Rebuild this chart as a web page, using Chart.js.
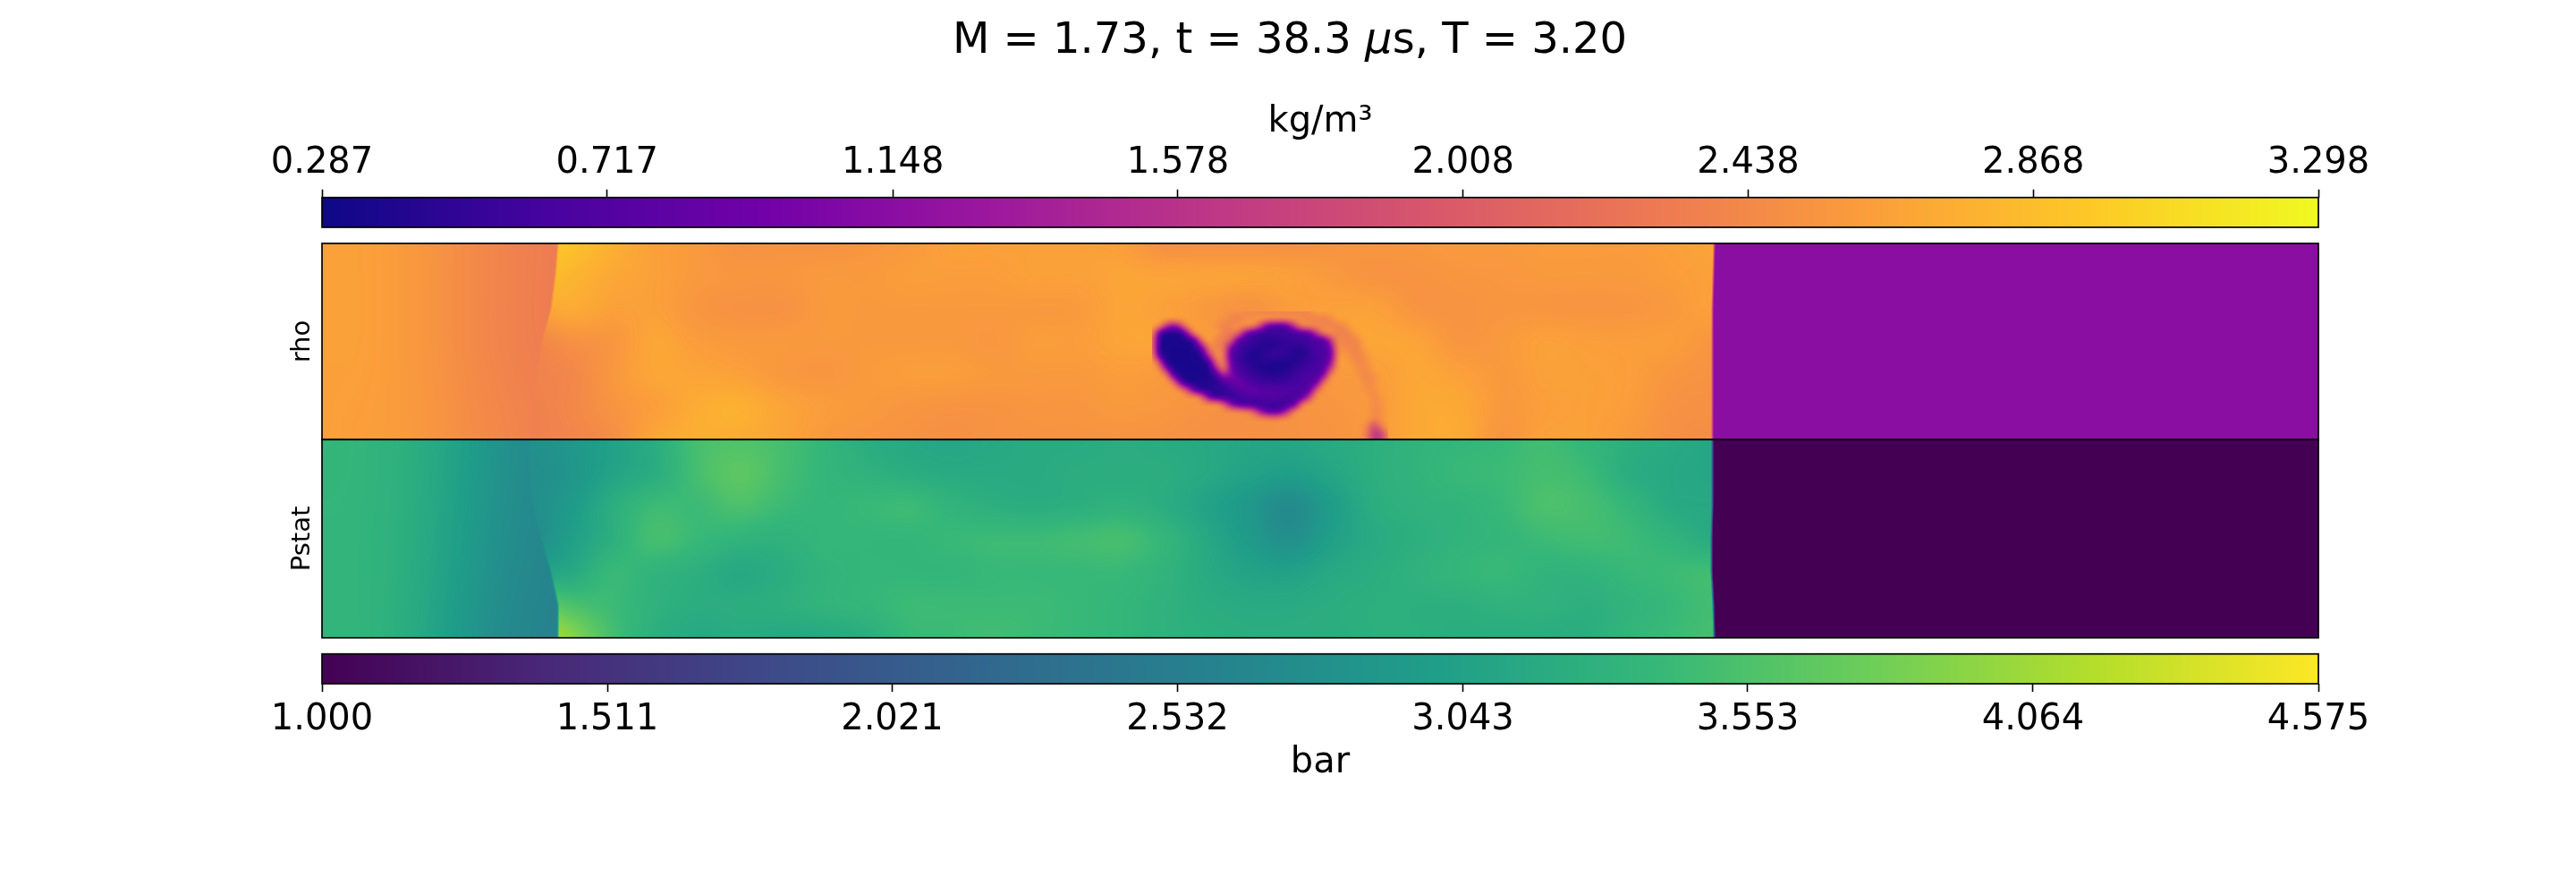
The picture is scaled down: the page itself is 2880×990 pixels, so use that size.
<!DOCTYPE html>
<html>
<head>
<meta charset="utf-8">
<title>M = 1.73</title>
<script src="https://cdn.jsdelivr.net/npm/chart.js@4"></script>
<style>
  body { margin: 0; background: #fff; }
  #wrap { position: relative; width: 2880px; height: 990px; }
  #figTitle { position: absolute; left: 0; width: 2884px; top: 14px; text-align: center;
    font: 48px "DejaVu Sans"; color: #000; line-height: 56px; }
  #figTitle i { font-family: "DejaVu Sans"; font-style: italic; }
  canvas { position: absolute; left: 0; top: 0; }
</style>
</head>
<body>
<div id="wrap">
  <canvas id="myChart" width="2880" height="990"></canvas>
  <div id="figTitle">M = 1.73, t = 38.3 <i>μ</i>s, T = 3.20</div>
</div>
<script>
// Ticks of the two colorbars
const rhoTicks = [0.287, 0.717, 1.148, 1.578, 2.008, 2.438, 2.868, 3.298];
const pstatTicks = [1.0, 1.511, 2.021, 2.532, 3.043, 3.553, 4.064, 4.575];
const panelNames = ["rho", "Pstat"];

// Colormaps
const plasmaStops = ["#0d0887", "#46039f", "#7201a8", "#9c179e", "#bd3786", "#d8576b", "#ed7953", "#fb9f3a", "#fdca26", "#f0f921"];
const viridisStops = ["#440154", "#482878", "#3e4989", "#31688e", "#26828e", "#1f9e89", "#35b779", "#6ece58", "#b5de2b", "#fde725"];

// Still gas ahead of the contact front
const rhoAmbient = 1.157;
const pstatAmbient = 1.0;

// Fronts, position along the channel for each of the 7 rows (top to bottom of the panel)
const rhoShock = [264, 261, 256, 246, 240, 233, 231];
const rhoContact = [1556.5, 1555.5, 1554.5, 1554.5, 1554.5, 1554.5, 1554.5];
const pstatShock = [231, 232, 236, 245, 256, 264, 264];
const pstatContact = [1554.5, 1554.5, 1554.5, 1553.5, 1553.5, 1555.5, 1556.5];

// Behind the shock
const leftX = [0, 40, 80, 120, 160, 200, 240, 280];
const rhoLeft = [
  [2.64, 2.64, 2.60, 2.54, 2.46, 2.39, 2.34, 2.31],
  [2.64, 2.64, 2.60, 2.54, 2.46, 2.39, 2.34, 2.31],
  [2.64, 2.62, 2.60, 2.55, 2.48, 2.42, 2.38, 2.35],
];
const pstatLeft = [
  [3.36, 3.34, 3.28, 3.17, 3.00, 2.82, 2.70, 2.62],
  [3.34, 3.33, 3.27, 3.14, 2.96, 2.78, 2.67, 2.60],
  [3.34, 3.33, 3.25, 3.10, 2.90, 2.72, 2.62, 2.57],
];

// Between shock and contact front
const mainX = [230, 277, 325, 372, 419, 467, 514, 561, 609, 656, 704, 751, 798, 846, 893, 940, 988, 1035, 1083, 1130, 1177, 1225, 1272, 1320, 1367, 1414, 1462, 1509, 1556];
const rhoMain = [
  [2.94, 2.90, 2.76, 2.64, 2.58, 2.52, 2.53, 2.52, 2.55, 2.58, 2.64, 2.64, 2.64, 2.64, 2.62, 2.50, 2.49, 2.49, 2.50, 2.53, 2.55, 2.56, 2.58, 2.58, 2.60, 2.60, 2.60, 2.63, 2.67],
  [2.91, 2.80, 2.70, 2.64, 2.58, 2.55, 2.55, 2.58, 2.58, 2.61, 2.61, 2.61, 2.64, 2.64, 2.67, 2.66, 2.66, 2.65, 2.63, 2.58, 2.53, 2.53, 2.55, 2.56, 2.58, 2.58, 2.58, 2.61, 2.64],
  [2.64, 2.72, 2.64, 2.64, 2.55, 2.52, 2.52, 2.58, 2.58, 2.58, 2.58, 2.58, 2.58, 2.59, 2.67, 2.64, 2.58, 2.52, 2.60, 2.64, 2.64, 2.54, 2.53, 2.55, 2.55, 2.54, 2.55, 2.58, 2.64],
  [2.40, 2.50, 2.55, 2.68, 2.61, 2.58, 2.58, 2.58, 2.58, 2.58, 2.58, 2.56, 2.61, 2.61, 2.67, 2.67, 2.61, 2.58, 2.58, 2.66, 2.68, 2.66, 2.55, 2.58, 2.64, 2.62, 2.61, 2.61, 2.55],
  [2.38, 2.42, 2.56, 2.68, 2.67, 2.64, 2.58, 2.55, 2.59, 2.61, 2.61, 2.58, 2.58, 2.58, 2.61, 2.59, 2.55, 2.55, 2.55, 2.58, 2.61, 2.69, 2.64, 2.58, 2.64, 2.64, 2.62, 2.55, 2.52],
  [2.36, 2.42, 2.53, 2.62, 2.73, 2.76, 2.67, 2.61, 2.58, 2.55, 2.53, 2.53, 2.55, 2.55, 2.58, 2.56, 2.52, 2.50, 2.52, 2.55, 2.59, 2.70, 2.70, 2.58, 2.62, 2.64, 2.61, 2.52, 2.50],
  [2.36, 2.40, 2.48, 2.68, 2.74, 2.73, 2.67, 2.58, 2.55, 2.52, 2.50, 2.52, 2.53, 2.53, 2.53, 2.52, 2.50, 2.50, 2.52, 2.53, 2.59, 2.70, 2.71, 2.55, 2.64, 2.64, 2.58, 2.50, 2.47],
];
const pstatMain = [
  [2.79, 2.89, 3.04, 3.22, 3.50, 3.57, 3.50, 3.36, 3.22, 3.15, 3.11, 3.15, 3.18, 3.18, 3.22, 3.18, 3.15, 3.11, 3.11, 3.18, 3.25, 3.32, 3.36, 3.40, 3.47, 3.36, 3.25, 3.18, 3.11],
  [2.75, 2.86, 3.07, 3.22, 3.50, 3.65, 3.50, 3.36, 3.29, 3.22, 3.18, 3.18, 3.18, 3.22, 3.22, 3.22, 3.15, 3.06, 3.00, 3.11, 3.25, 3.32, 3.40, 3.43, 3.50, 3.43, 3.22, 3.15, 3.11],
  [2.75, 2.93, 3.22, 3.43, 3.43, 3.54, 3.43, 3.36, 3.40, 3.43, 3.32, 3.25, 3.22, 3.25, 3.29, 3.22, 3.07, 2.90, 2.72, 2.98, 3.22, 3.29, 3.32, 3.40, 3.54, 3.50, 3.36, 3.18, 3.15],
  [2.72, 3.00, 3.25, 3.50, 3.40, 3.32, 3.29, 3.36, 3.36, 3.36, 3.40, 3.43, 3.43, 3.47, 3.50, 3.36, 3.15, 2.95, 2.78, 3.02, 3.18, 3.25, 3.32, 3.36, 3.43, 3.47, 3.43, 3.32, 3.18],
  [3.07, 3.15, 3.40, 3.32, 3.25, 3.15, 3.22, 3.32, 3.36, 3.36, 3.36, 3.40, 3.40, 3.40, 3.40, 3.32, 3.18, 3.07, 3.04, 3.15, 3.22, 3.29, 3.36, 3.40, 3.32, 3.32, 3.40, 3.43, 3.47],
  [3.80, 3.55, 3.43, 3.29, 3.22, 3.22, 3.25, 3.32, 3.36, 3.43, 3.43, 3.43, 3.43, 3.40, 3.36, 3.29, 3.22, 3.18, 3.18, 3.22, 3.25, 3.25, 3.25, 3.29, 3.29, 3.25, 3.32, 3.40, 3.47],
  [4.29, 3.95, 3.50, 3.25, 3.15, 3.18, 3.15, 3.15, 3.22, 3.40, 3.43, 3.47, 3.43, 3.40, 3.36, 3.29, 3.25, 3.22, 3.22, 3.22, 3.25, 3.25, 3.22, 3.22, 3.22, 3.22, 3.36, 3.43, 3.50],
];

// Vortex detail (rho), finer cells, _ = use the main field there
const _ = null;
const vortexX = [928, 936, 944, 952, 960, 968, 976, 984, 992, 1000, 1008, 1016, 1024, 1032, 1040, 1048, 1056, 1064, 1072, 1080, 1088, 1096, 1104, 1112, 1120, 1128, 1136, 1144, 1152, 1160, 1168, 1176, 1184, 1192];
const vortexY = [127.3, 135.3, 143.3, 151.3, 159.3, 167.3, 175.3, 183.3, 191.3, 199.3, 207.3, 215.3, 223.3, 231.3, 239.3, 247.3, 255.3, 263.3, 271.3];
const rhoVortex = [
  [_, _, _, _, _, _, _, _, _, _, _, _, _, 2.45, 2.40, 2.36, 2.36, 2.36, 2.36, 2.36, 2.36, 2.40, 2.45, _, _, _, _, _, _, _, _, _, _, _],
  [_, _, _, _, _, _, _, _, _, _, 2.50, 2.40, 2.35, 2.45, 2.50, 2.55, 2.50, 2.48, 2.48, 2.48, 2.48, 2.45, 2.36, 2.36, 2.36, 2.45, _, _, _, _, _, _, _, _],
  [_, 2.40, 1.60, 1.20, 1.70, 2.45, _, _, _, 2.50, 2.38, 2.42, 2.50, 2.50, 2.40, 1.80, 1.00, 0.75, 0.70, 0.95, 1.70, 2.35, 2.45, 2.45, 2.42, 2.38, 2.38, 2.48, _, _, _, _, _, _],
  [2.45, 0.90, 0.40, 0.38, 0.45, 1.30, 2.40, _, _, _, 2.36, 2.30, 2.10, 1.20, 0.70, 0.58, 0.55, 0.58, 0.60, 0.60, 0.62, 0.70, 0.90, 1.60, 2.30, 2.45, 2.38, 2.36, 2.50, _, _, _, _, _],
  [2.30, 0.60, 0.37, 0.37, 0.37, 0.45, 0.90, 2.20, _, 2.38, 2.30, 2.00, 0.95, 0.66, 0.58, 0.52, 0.48, 0.48, 0.50, 0.54, 0.58, 0.60, 0.64, 0.66, 0.75, 1.60, 2.45, 2.38, 2.38, 2.50, _, _, _, _],
  [2.30, 0.55, 0.36, 0.35, 0.35, 0.37, 0.48, 1.10, 2.30, 2.40, 2.20, 1.10, 0.66, 0.56, 0.48, 0.42, 0.42, 0.45, 0.50, 0.50, 0.46, 0.48, 0.58, 0.66, 0.70, 1.10, 2.45, 2.45, 2.40, 2.45, _, _, _, _],
  [2.40, 0.70, 0.36, 0.35, 0.35, 0.35, 0.38, 0.55, 1.70, 2.45, 2.20, 0.85, 0.60, 0.48, 0.40, 0.42, 0.50, 0.55, 0.52, 0.48, 0.42, 0.42, 0.52, 0.64, 0.68, 0.95, 2.40, 2.55, 2.42, 2.42, 2.55, _, _, _],
  [_, 1.70, 0.45, 0.35, 0.35, 0.35, 0.36, 0.40, 0.75, 2.10, 2.30, 0.95, 0.60, 0.50, 0.42, 0.42, 0.44, 0.42, 0.40, 0.40, 0.42, 0.48, 0.56, 0.62, 0.70, 1.20, 2.50, _, 2.50, 2.42, 2.50, _, _, _],
  [_, 2.40, 1.20, 0.40, 0.36, 0.35, 0.35, 0.36, 0.48, 1.30, 2.20, 1.10, 0.68, 0.58, 0.48, 0.42, 0.38, 0.37, 0.38, 0.42, 0.50, 0.56, 0.62, 0.66, 0.80, 1.70, _, _, _, 2.45, 2.45, _, _, _],
  [_, _, 2.30, 0.95, 0.44, 0.36, 0.36, 0.36, 0.40, 0.60, 1.20, 1.05, 0.78, 0.64, 0.56, 0.52, 0.48, 0.46, 0.48, 0.52, 0.58, 0.64, 0.68, 0.72, 1.20, 2.40, _, _, _, 2.50, 2.42, 2.50, _, _],
  [_, _, _, 2.20, 1.00, 0.48, 0.42, 0.42, 0.42, 0.46, 0.62, 0.80, 0.90, 0.80, 0.68, 0.60, 0.56, 0.55, 0.56, 0.60, 0.62, 0.66, 0.72, 1.00, 2.20, _, _, _, _, _, 2.45, 2.50, _, _],
  [_, _, _, _, 2.40, 1.70, 0.85, 0.55, 0.48, 0.48, 0.52, 0.60, 0.72, 0.80, 0.82, 0.78, 0.74, 0.74, 0.72, 0.70, 0.68, 0.72, 0.90, 2.00, _, _, _, _, _, _, 2.50, 2.48, _, _],
  [_, _, _, _, _, _, _, 2.00, 1.00, 0.66, 0.54, 0.54, 0.58, 0.64, 0.68, 0.72, 0.72, 0.72, 0.68, 0.66, 0.68, 0.85, 1.70, _, _, _, _, _, _, _, _, 2.45, 2.55, _],
  [_, _, _, _, _, _, _, _, _, _, 2.00, 1.20, 0.76, 0.62, 0.58, 0.58, 0.58, 0.58, 0.60, 0.66, 0.95, 2.20, _, _, _, _, _, _, _, _, _, 2.48, 2.50, _],
  [_, _, _, _, _, _, _, _, _, _, _, _, 2.45, 2.30, 2.10, 1.40, 0.90, 0.80, 0.95, 1.60, 2.40, _, _, _, _, _, _, _, _, _, _, 2.45, 2.50, _],
  [_, _, _, _, _, _, _, _, _, _, _, _, _, _, _, 2.45, 2.40, 2.30, 2.40, 2.50, _, _, _, _, _, _, _, _, _, _, _, 2.42, 2.48, _],
  [_, _, _, _, _, _, _, _, _, _, _, _, _, _, _, _, _, _, _, _, _, _, _, _, _, _, _, _, _, _, 2.40, 1.90, 2.30, _],
  [_, _, _, _, _, _, _, _, _, _, _, _, _, _, _, _, _, _, _, _, _, _, _, _, _, _, _, _, _, _, 2.30, 1.70, 1.75, 2.45],
  [_, _, _, _, _, _, _, _, _, _, _, _, _, _, _, _, _, _, _, _, _, _, _, _, _, _, _, _, _, _, 2.30, 1.65, 1.65, 2.45],
];

// Vertical layout of the figure, in the units of the y axis
const barTop = [0, 33.3];
const rhoPanel = [51.3, 270.5];
const pstatPanel = [270.5, 492];
const barBottom = [510, 543.3];

function clamp01(v) { return v < 0 ? 0 : v > 1 ? 1 : v; }

function hexToRgb(h) {
  return [parseInt(h.slice(1, 3), 16), parseInt(h.slice(3, 5), 16), parseInt(h.slice(5, 7), 16)];
}

function buildLut(stops) {
  const rgb = stops.map(hexToRgb);
  const lut = new Uint8ClampedArray(1024 * 3);
  for (let i = 0; i < 1024; i++) {
    const t = (i / 1023) * (rgb.length - 1);
    const k = Math.min(Math.floor(t), rgb.length - 2);
    for (let c = 0; c < 3; c++) lut[i * 3 + c] = rgb[k][c] + (rgb[k + 1][c] - rgb[k][c]) * (t - k);
  }
  return lut;
}

function cubic(a, b, c, d, t) {
  return b + 0.5 * t * (c - a + t * (2 * a - 5 * b + 4 * c - d + t * (3 * (b - c) + d - a)));
}

// same as cubic, but it never overshoots the two middle values
function cubicTight(a, b, c, d, t) {
  const r = cubic(a, b, c, d, t);
  const lo = Math.min(b, c), hi = Math.max(b, c);
  return r < lo ? lo : r > hi ? hi : r;
}

// smooth lookup in a table with even rows and columns (u, v from 0 to 1)
function sampleCubic(grid, u, v, fn) {
  const ny = grid.length, nx = grid[0].length;
  const fx = clamp01(u) * (nx - 1), fy = clamp01(v) * (ny - 1);
  const ix = Math.min(Math.floor(fx), nx - 2), iy = Math.min(Math.floor(fy), ny - 2);
  const rows = [];
  for (let j = -1; j <= 2; j++) {
    const r = grid[Math.max(0, Math.min(ny - 1, iy + j))];
    rows.push(fn(r[Math.max(0, ix - 1)], r[ix], r[ix + 1], r[Math.min(nx - 1, ix + 2)], fx - ix));
  }
  return fn(rows[0], rows[1], rows[2], rows[3], fy - iy);
}

function sampleLine(line, v) {
  const f = clamp01(v) * (line.length - 1);
  const i = Math.min(Math.floor(f), line.length - 2);
  return line[i] + (line[i + 1] - line[i]) * (f - i);
}

function fieldValue(x, v, f) {
  const shock = sampleLine(f.shock, v), contact = sampleLine(f.contact, v);
  const left = sampleCubic(f.left, x / leftX[leftX.length - 1], v, cubic);
  const main = sampleCubic(f.main, (x - mainX[0]) / (mainX[mainX.length - 1] - mainX[0]), v, cubic);
  const a = clamp01((x - shock) / 3 + 0.5);
  const behind = left + (main - left) * a;
  const b = clamp01((x - contact) / 3 + 0.5);
  return { behind, b };
}

// the vortex table with its empty cells filled from the main field
const vortexFull = rhoVortex.map((row, j) => row.map((val, i) => {
  if (val !== null) return val;
  const v = (vortexY[j] - rhoPanel[0]) / (rhoPanel[1] - rhoPanel[0]);
  return fieldValue(vortexX[i], v, { shock: rhoShock, contact: rhoContact, left: rhoLeft, main: rhoMain }).behind;
}));

const softTaps = [[0, 0], [-3, -3], [3, -3], [-3, 3], [3, 3]];

function sampleVortex(x, y) {
  const nx = vortexX.length, ny = vortexY.length;
  const w = vortexX[nx - 1] - vortexX[0], h = vortexY[ny - 1] - vortexY[0];
  if (x < vortexX[0] || y < vortexY[0] || x > vortexX[nx - 1]) return null;
  let sum = 0;
  softTaps.forEach((t) => {
    sum += sampleCubic(vortexFull, (x + t[0] - vortexX[0]) / w, (y + t[1] - vortexY[0]) / h, cubicTight);
  });
  return sum / softTaps.length;
}

function paintPanel(chart, panel, f, lut, min, max) {
  const xs = chart.scales.xField, ys = chart.scales.y;
  const left = Math.round(xs.left), w = Math.round(xs.right) - left;
  const top = Math.round(ys.getPixelForValue(panel[0]));
  const h = Math.round(ys.getPixelForValue(panel[1])) - top;
  const img = chart.ctx.createImageData(w, h);
  for (let py = 0; py < h; py++) {
    const y = ys.getValueForPixel(top + py + 0.5);
    const v = clamp01((y - panel[0]) / (panel[1] - panel[0]));
    for (let px = 0; px < w; px++) {
      const x = xs.getValueForPixel(left + px + 0.5);
      const s = fieldValue(x, v, f);
      let val = s.behind;
      if (f.vortex) {
        const vv = sampleVortex(x, y);
        if (vv !== null) val = vv;
      }
      val = val + (f.ambient - val) * s.b;
      const k = Math.round(clamp01((val - min) / (max - min)) * 1023) * 3;
      const o = (py * w + px) * 4;
      img.data[o] = lut[k]; img.data[o + 1] = lut[k + 1]; img.data[o + 2] = lut[k + 2]; img.data[o + 3] = 255;
    }
  }
  chart.ctx.putImageData(img, left, top);
}

function paintBar(chart, scale, panel, lut) {
  const ys = chart.scales.y, ctx = chart.ctx;
  const top = ys.getPixelForValue(panel[0]), bottom = ys.getPixelForValue(panel[1]);
  for (let px = Math.round(scale.left); px < Math.round(scale.right); px++) {
    const val = scale.getValueForPixel(px + 0.5);
    const k = Math.round(clamp01((val - scale.min) / (scale.max - scale.min)) * 1023) * 3;
    ctx.fillStyle = `rgb(${lut[k]},${lut[k + 1]},${lut[k + 2]})`;
    ctx.fillRect(px, top, 1, bottom - top);
  }
}

const plasmaLut = buildLut(plasmaStops);
const viridisLut = buildLut(viridisStops);

const fieldPlugin = {
  id: "fieldPlugin",
  beforeDatasetsDraw(chart) {
    const { xTop, xBottom, xField, y } = chart.scales;
    paintBar(chart, xTop, barTop, plasmaLut);
    paintBar(chart, xBottom, barBottom, viridisLut);
    paintPanel(chart, rhoPanel, { shock: rhoShock, contact: rhoContact, left: rhoLeft, main: rhoMain, ambient: rhoAmbient, vortex: true }, plasmaLut, xTop.min, xTop.max);
    paintPanel(chart, pstatPanel, { shock: pstatShock, contact: pstatContact, left: pstatLeft, main: pstatMain, ambient: pstatAmbient }, viridisLut, xBottom.min, xBottom.max);

    // frames
    const ctx = chart.ctx;
    ctx.save();
    ctx.strokeStyle = "#000";
    ctx.lineWidth = 1.7;
    [barTop, rhoPanel, pstatPanel, barBottom].forEach((p) => {
      const t = y.getPixelForValue(p[0]), b = y.getPixelForValue(p[1]);
      ctx.strokeRect(xField.left, t, xField.right - xField.left, b - t);
    });
    ctx.restore();
  },
};

function cells(grid, xs, panel) {
  const out = [];
  grid.forEach((row, j) => row.forEach((val, i) => {
    out.push({ x: xs[i], y: panel[0] + ((panel[1] - panel[0]) * j) / (grid.length - 1), v: val });
  }));
  return out;
}

const ctx = document.getElementById("myChart").getContext("2d");
const tickFont = { family: "DejaVu Sans", size: 40 };

const myChart = new Chart(ctx, {
  type: "scatter",
  data: {
    datasets: [
      { label: "rho", data: cells(rhoMain, mainX, rhoPanel), xAxisID: "xField", yAxisID: "y", pointRadius: 0 },
      { label: "Pstat", data: cells(pstatMain, mainX, pstatPanel), xAxisID: "xField", yAxisID: "y", pointRadius: 0 },
    ],
  },
  plugins: [fieldPlugin],
  options: {
    responsive: false,
    animation: false,
    devicePixelRatio: 1,
    layout: { padding: { left: 260, right: 288, top: 0, bottom: 0 } },
    plugins: { legend: { display: false }, title: { display: false }, tooltip: { enabled: false } },
    scales: {
      xField: { type: "linear", axis: "x", display: false, min: 0, max: 2232 },
      xTop: {
        type: "linear", axis: "x", position: "top", min: rhoTicks[0], max: rhoTicks[7],
        afterBuildTicks: (s) => { s.ticks = rhoTicks.map((value) => ({ value })); },
        afterFit: (s) => { s.height = 220.7; },
        ticks: { font: tickFont, color: "#000", padding: 5, maxRotation: 0, autoSkip: false, callback: (v) => v.toFixed(3) },
        grid: { drawOnChartArea: false, tickLength: 9, tickColor: "#000", tickWidth: 1.6 },
        border: { display: false },
        title: { display: true, text: "kg/m³", color: "#000", font: { family: "DejaVu Sans", size: 40 }, padding: { top: 113, bottom: 0 } },
      },
      xBottom: {
        type: "linear", axis: "x", position: "bottom", min: pstatTicks[0], max: pstatTicks[7],
        afterBuildTicks: (s) => { s.ticks = pstatTicks.map((value) => ({ value })); },
        afterFit: (s) => { s.height = 226; },
        ticks: { font: tickFont, color: "#000", padding: 8, maxRotation: 0, autoSkip: false, callback: (v) => v.toFixed(3) },
        grid: { drawOnChartArea: false, tickLength: 9, tickColor: "#000", tickWidth: 1.6 },
        border: { display: false },
        title: { display: true, text: "bar", color: "#000", font: { family: "DejaVu Sans", size: 40 }, padding: { top: 0, bottom: 113 } },
      },
      y: {
        type: "linear", position: "left", reverse: true, min: 0, max: 543.3,
        afterBuildTicks: (s) => { s.ticks = [{ value: (rhoPanel[0] + rhoPanel[1]) / 2 }, { value: (pstatPanel[0] + pstatPanel[1]) / 2 }]; },
        afterFit: (s) => { s.width = 100; },
        ticks: {
          font: { family: "DejaVu Sans", size: 29 }, color: "#000", padding: -23, crossAlign: "center", minRotation: 90, maxRotation: 90, autoSkip: false,
          callback: (v) => (v < 270.5 ? panelNames[0] : panelNames[1]),
        },
        grid: { display: false },
        border: { display: false },
      },
    },
  },
});
</script>
</body>
</html>
